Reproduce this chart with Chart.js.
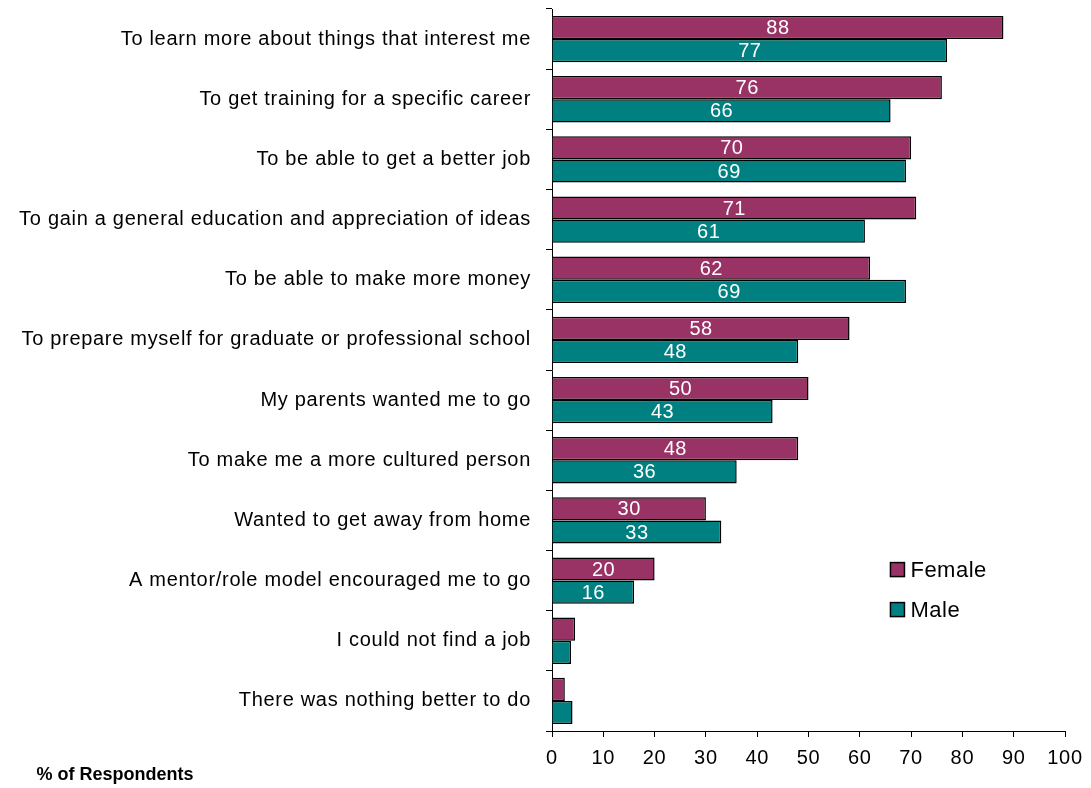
<!DOCTYPE html>
<html>
<head>
<meta charset="utf-8">
<script src="https://cdn.jsdelivr.net/npm/chart.js@4/dist/chart.umd.min.js"></script>
<style>
html,body{margin:0;padding:0;background:#fff;}
#wrap{width:1091px;height:788px;position:relative;}
</style>
</head>
<body>
<div id="wrap"><canvas id="c"></canvas></div>
<script>
const categories = [
  "To learn more about things that interest me",
  "To get training for a specific career",
  "To be able to get a better job",
  "To gain a general education and appreciation of ideas",
  "To be able to make more money",
  "To prepare myself for graduate or professional school",
  "My parents wanted me to go",
  "To make me a more cultured person",
  "Wanted to get away from home",
  "A mentor/role model encouraged me to go",
  "I could not find a job",
  "There was nothing better to do"
];
const femaleValues = [88, 76, 70, 71, 62, 58, 50, 48, 30, 20, 4.5, 2.5];
const maleValues   = [77, 66, 69, 61, 69, 48, 43, 36, 33, 16, 3.7, 4];
const femaleLabels = ["88","76","70","71","62","58","50","48","30","20","",""];
const maleLabels   = ["77","66","69","61","69","48","43","36","33","16","",""];
const xTicks = [0,10,20,30,40,50,60,70,80,90,100];
const axisTitle = "% of Respondents";

const FONT = "'Liberation Sans', Arial, sans-serif";
const FEMALE = "#993366", MALE = "#008080";

const labelPlugin = {
  id: 'barLabels',
  beforeDraw(chart) {
    try { chart.ctx.letterSpacing = '0.7px'; } catch (e) {}
  },
  afterDatasetsDraw(chart) {
    const ctx = chart.ctx;
    const lbls = [femaleLabels, maleLabels];
    ctx.save();
    ctx.fillStyle = '#fff';
    ctx.font = "20px " + FONT;
    ctx.letterSpacing = '0.5px';
    ctx.textAlign = 'center';
    ctx.textBaseline = 'middle';
    chart.data.datasets.forEach((ds, di) => {
      chart.getDatasetMeta(di).data.forEach((el, i) => {
        const t = lbls[di][i];
        if (!t) return;
        const p = el.getProps(['x','y','base'], true);
        ctx.fillText(t, (p.x + p.base) / 2, p.y + 1);
      });
    });
    ctx.restore();
  },
  afterDraw(chart) {
    const ctx = chart.ctx;
    ctx.save();
    ctx.fillStyle = '#000';
    ctx.font = "bold 18px " + FONT;
    ctx.letterSpacing = '0px';
    ctx.textAlign = 'center';
    ctx.textBaseline = 'middle';
    ctx.fillText(axisTitle, 115, 775);
    const y = chart.scales.y;
    const items = chart.data.datasets;
    const lx = chart.scales.x.getPixelForValue(65);
    const ly0 = y.getPixelForValue(9) - 11;
    ctx.font = "22px " + FONT;
    ctx.letterSpacing = '0.5px';
    ctx.textAlign = 'left';
    items.forEach((ds, i) => {
      const cy = ly0 + i * 40;
      ctx.fillStyle = ds.backgroundColor;
      ctx.fillRect(lx + 5, cy - 7, 14, 14);
      ctx.strokeStyle = '#000';
      ctx.lineWidth = 1.5;
      ctx.strokeRect(lx + 5, cy - 7, 14, 14);
      ctx.fillStyle = '#000';
      ctx.fillText(ds.label, lx + 25, cy + 1);
    });
    ctx.restore();
  }
};

new Chart(document.getElementById('c'), {
  type: 'bar',
  data: {
    labels: categories,
    datasets: [
      { label: 'Female', data: femaleValues, backgroundColor: FEMALE, borderColor: '#000', borderWidth: 1.5,
        barPercentage: 1.0, categoryPercentage: 0.77 },
      { label: 'Male', data: maleValues, backgroundColor: MALE, borderColor: '#000', borderWidth: 1.5,
        barPercentage: 1.0, categoryPercentage: 0.77 }
    ]
  },
  options: {
    indexAxis: 'y',
    responsive: true,
    maintainAspectRatio: false,
    animation: false,
    layout: { padding: { left: 0, right: 26, top: 9, bottom: 0 } },
    plugins: { legend: { display: false }, tooltip: { enabled: false } },
    scales: {
      x: {
        min: 0, max: 100,
        afterBuildTicks(s) { s.ticks = xTicks.map(v => ({ value: v })); },
        afterFit(s) { s.height = 57; s.paddingLeft = 0; s.paddingRight = 0; },
        grid: { drawOnChartArea: false, drawTicks: true, tickLength: 6, color: '#000' },
        border: { display: true, color: '#000', width: 1 },
        ticks: { color: '#000', font: { family: FONT, size: 20 }, padding: 9, maxRotation: 0 }
      },
      y: {
        afterFit(s) { s.width = 552; s.paddingTop = 0; s.paddingBottom = 0; },
        grid: { offset: true, drawOnChartArea: false, drawTicks: true, tickLength: 6, color: '#000' },
        border: { display: true, color: '#000', width: 1 },
        ticks: { color: '#000', font: { family: FONT, size: 20 }, padding: 15, autoSkip: false }
      }
    }
  },
  plugins: [labelPlugin]
});
</script>
</body>
</html>
